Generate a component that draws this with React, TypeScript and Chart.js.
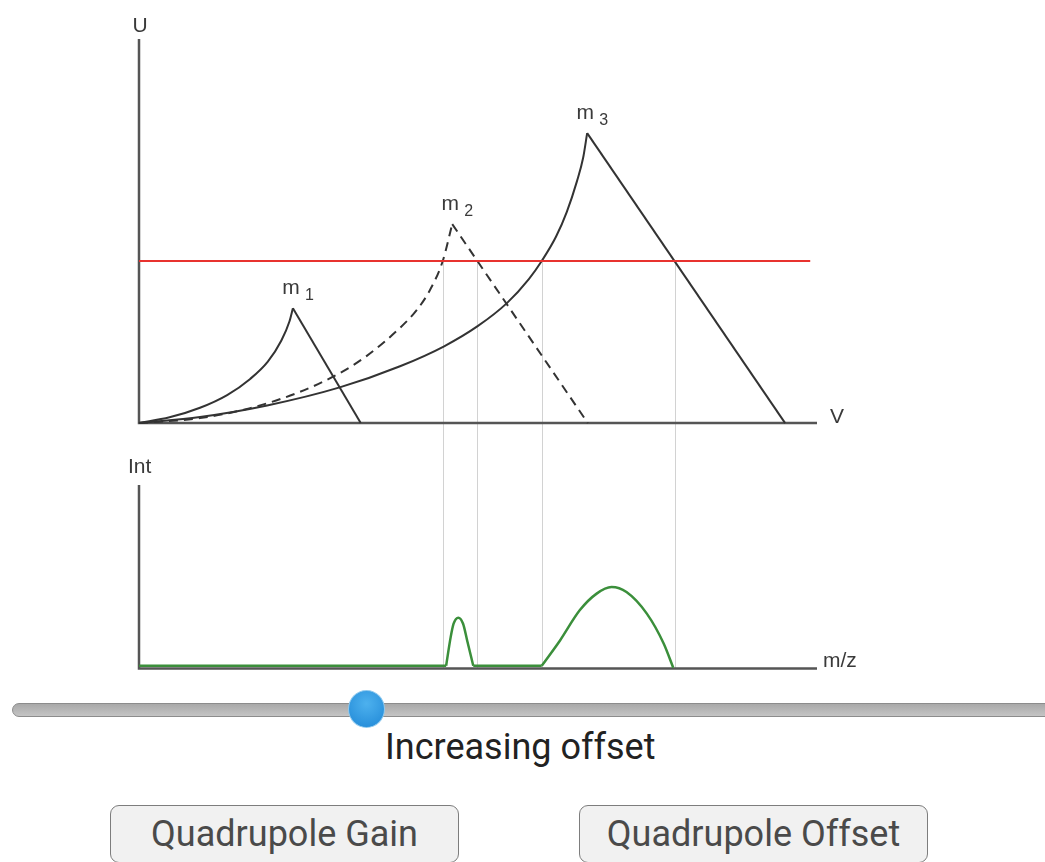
import React, { useEffect, useRef } from "react";
import { Chart, registerables } from "chart.js";

Chart.register(...registerables);

// ---------------- data ----------------
// Upper panel: stability diagram, V (x, % of axis length) vs U (% of axis height)
const V_AXIS_MAX = 100;
const U_AXIS_MAX = 100;
const INT_AXIS_MAX = 100;

const scanLineU = 42.2;
const scanLineV = [0, 99];

const m1CurveV = [0, 4.5, 9.0, 13.0, 16.4, 19.0, 21.0, 22.2, 22.7];
const m1CurveU = [0, 1.5, 4.0, 7.3, 11.5, 16.0, 21.5, 26.5, 29.9];
const m1EdgeV = [22.7, 32.7];
const m1EdgeU = [29.9, 0];

const m2CurveV = [0, 9.0, 16.4, 23.7, 29.6, 33.6, 38.5, 41.0, 42.9, 44.8, 46.2];
const m2CurveU = [0, 1.3, 3.9, 8.1, 13.0, 17.5, 24.8, 29.5, 34.6, 42.2, 51.8];
const m2EdgeV = [46.2, 66.2];
const m2EdgeU = [51.8, 0];

const m3CurveV = [0, 9.0, 18.9, 29.6, 38.5, 45.0, 50.0, 54.3, 57.5, 59.4, 61.5, 63.1, 64.6, 65.5, 66.1];
const m3CurveU = [0, 1.6, 4.6, 9.3, 14.8, 20.0, 25.3, 31.3, 37.5, 42.2, 48.5, 55.0, 63.0, 69.0, 75.5];
const m3EdgeV = [66.1, 95.3];
const m3EdgeU = [75.5, 0];

const peakSubscripts = ["1", "2", "3"];
const peakV = [22.7, 46.2, 66.1];
const peakU = [29.9, 51.8, 75.5];

// V positions where the scan line crosses the stability boundaries
const crossingV = [44.8, 49.9, 59.4, 79.0];

// Lower panel: spectrum, m/z (same x) vs intensity
const spectrumBaseline = 1.5;
const spectrumX = [0, 45.3, 45.97, 46.4, 47.1, 47.8, 48.4, 49.3, 59.4, 62.1, 65.0, 67.5, 69.7, 71.9, 74.9, 77.4, 78.8];
const spectrumI = [1.5, 1.5, 17.1, 24.4, 27.7, 24.4, 15.3, 1.5, 1.5, 15.3, 31.7, 40.8, 44.4, 41.7, 29.9, 13.5, 0.4];

// ranges of the two vertical scales sharing one plot area
const U_SCALE_MIN = -63.9;
const INT_SCALE_MAX = 343;

// ---------------- helpers ----------------
const pts = (xs: number[], ys: number[]) => xs.map((x, i) => ({ x, y: ys[i] }));

// split a series into pieces at baseline points so every peak keeps sharp feet
function splitAtBaseline(xs: number[], ys: number[], base: number) {
  const pieces: { x: number; y: number }[][] = [];
  let cur: { x: number; y: number }[] = [];
  xs.forEach((x, i) => {
    const p = { x, y: ys[i] };
    cur.push(p);
    if (ys[i] <= base && cur.length > 1) {
      pieces.push(cur);
      cur = [p];
    }
  });
  if (cur.length > 1) pieces.push(cur);
  return pieces;
}

const AXIS_COLOR = "#555555";
const CURVE_COLOR = "#333333";
const LABEL_FONT = '"Liberation Sans", Arial, sans-serif';

const overlayPlugin = {
  id: "overlay",
  beforeDatasetsDraw(chart: any) {
    const { ctx, scales } = chart;
    const x = scales.x;
    const yU = scales.yU;
    const yI = scales.yI;
    ctx.save();
    ctx.strokeStyle = "#d2d2d2";
    ctx.lineWidth = 1;
    crossingV.forEach((v) => {
      const px = Math.round(x.getPixelForValue(v)) + 0.5;
      ctx.beginPath();
      ctx.moveTo(px, yU.getPixelForValue(scanLineU));
      ctx.lineTo(px, yI.getPixelForValue(0));
      ctx.stroke();
    });
    ctx.restore();
  },
  afterDatasetsDraw(chart: any) {
    const { ctx, scales } = chart;
    const x = scales.x;
    const yU = scales.yU;
    const yI = scales.yI;
    ctx.save();
    ctx.fillStyle = "#3a3a3a";
    ctx.textBaseline = "alphabetic";

    // axis titles
    ctx.font = `21px ${LABEL_FONT}`;
    ctx.textAlign = "center";
    ctx.fillText("U", x.getPixelForValue(0) + 1, yU.getPixelForValue(U_AXIS_MAX) - 7);
    ctx.textAlign = "left";
    ctx.fillText("V", x.getPixelForValue(V_AXIS_MAX) + 13, yU.getPixelForValue(0));
    ctx.font = `21px ${LABEL_FONT}`;
    ctx.fillText("Int", x.getPixelForValue(0) - 11, yI.getPixelForValue(INT_AXIS_MAX) - 12);
    ctx.fillText("m/z", x.getPixelForValue(V_AXIS_MAX) + 6, yI.getPixelForValue(0) - 2);

    // peak labels
    peakSubscripts.forEach((s, i) => {
      const px = x.getPixelForValue(peakV[i]);
      const py = yU.getPixelForValue(peakU[i]);
      ctx.font = `21px ${LABEL_FONT}`;
      ctx.textAlign = "center";
      ctx.fillText("m", px - 2, py - 14);
      ctx.font = `16px ${LABEL_FONT}`;
      ctx.textAlign = "left";
      ctx.fillText(s, px + 12, py - 8);
    });
    ctx.restore();
  },
};

export default function App() {
  const canvasRef = useRef<HTMLCanvasElement | null>(null);

  useEffect(() => {
    if (!canvasRef.current) return;
    const line = (data: any[], color: string, width: number, yAxisID: string, extra: any = {}) => ({
      type: "line",
      data,
      borderColor: color,
      borderWidth: width,
      pointRadius: 0,
      fill: false,
      tension: 0,
      clip: false,
      yAxisID,
      ...extra,
    });
    const smooth = { cubicInterpolationMode: "monotone" };
    const spectrumPieces = splitAtBaseline(spectrumX, spectrumI, spectrumBaseline).map((piece) =>
      line(piece, "#3b8f3b", 2.5, "yI", smooth)
    );

    const chart = new Chart(canvasRef.current, {
      type: "line",
      data: {
        datasets: [
          line(pts(scanLineV, [scanLineU, scanLineU]), "#e8322f", 2, "yU"),
          line(pts(m1CurveV, m1CurveU), CURVE_COLOR, 2, "yU", smooth),
          line(pts(m1EdgeV, m1EdgeU), CURVE_COLOR, 2, "yU"),
          line(pts(m2CurveV, m2CurveU), CURVE_COLOR, 2, "yU", { ...smooth, borderDash: [9, 6] }),
          line(pts(m2EdgeV, m2EdgeU), CURVE_COLOR, 2, "yU", { borderDash: [9, 6] }),
          line(pts(m3CurveV, m3CurveU), CURVE_COLOR, 2, "yU", smooth),
          line(pts(m3EdgeV, m3EdgeU), CURVE_COLOR, 2, "yU"),
          ...spectrumPieces,
          line(pts([0, 0, V_AXIS_MAX], [U_AXIS_MAX, 0, 0]), AXIS_COLOR, 2.5, "yU"),
          line(pts([0, 0, V_AXIS_MAX], [INT_AXIS_MAX, 0, 0]), AXIS_COLOR, 2.5, "yI"),
        ] as any,
      },
      options: {
        animation: false,
        responsive: false,
        events: [],
        layout: { padding: { left: 139, right: 228, top: 39, bottom: 21.5 } },
        plugins: { legend: { display: false }, tooltip: { enabled: false } },
        scales: {
          x: { type: "linear", min: 0, max: V_AXIS_MAX, display: false },
          yU: { type: "linear", position: "left", min: U_SCALE_MIN, max: U_AXIS_MAX, display: false },
          yI: { type: "linear", position: "left", min: 0, max: INT_SCALE_MAX, display: false },
        },
      } as any,
      plugins: [overlayPlugin],
    });
    return () => chart.destroy();
  }, []);

  return (
    <div
      style={{
        position: "absolute",
        left: 0,
        top: 0,
        width: 1045,
        height: 862,
        overflow: "hidden",
        background: "#ffffff",
        fontFamily: "Roboto, sans-serif",
      }}
    >
      <canvas ref={canvasRef} width={1045} height={690} style={{ position: "absolute", left: 0, top: 0 }} />

      {/* slider */}
      <div
        style={{
          position: "absolute",
          left: 12,
          top: 703,
          width: 1060,
          height: 14,
          boxSizing: "border-box",
          borderRadius: 7,
          border: "1px solid #8c8c8c",
          background: "linear-gradient(#a9a9a9, #c4c4c4)",
        }}
      />
      <div
        style={{
          position: "absolute",
          left: 348,
          top: 690,
          width: 37,
          height: 38,
          boxSizing: "border-box",
          borderRadius: "50%",
          border: "1px solid #8fc9ee",
          background: "radial-gradient(circle at 50% 35%, #4db1ee, #1f87d6)",
        }}
      />
      <div
        style={{
          position: "absolute",
          left: 385,
          top: 729,
          fontSize: 36,
          lineHeight: "36px",
          color: "#222",
          whiteSpace: "nowrap",
        }}
      >
        Increasing offset
      </div>

      {/* buttons */}
      {[
        { label: "Quadrupole Gain", left: 110, width: 349 },
        { label: "Quadrupole Offset", left: 579, width: 349 },
      ].map((b) => (
        <div
          key={b.label}
          style={{
            position: "absolute",
            left: b.left,
            top: 805,
            width: b.width,
            height: 58,
            boxSizing: "border-box",
            border: "1px solid #7d7d7d",
            borderRadius: 9,
            background: "#f1f1f1",
            display: "flex",
            alignItems: "center",
            justifyContent: "center",
            fontSize: 36,
            color: "#4a4a4a",
            whiteSpace: "nowrap",
          }}
        >
          {b.label}
        </div>
      ))}
    </div>
  );
}
